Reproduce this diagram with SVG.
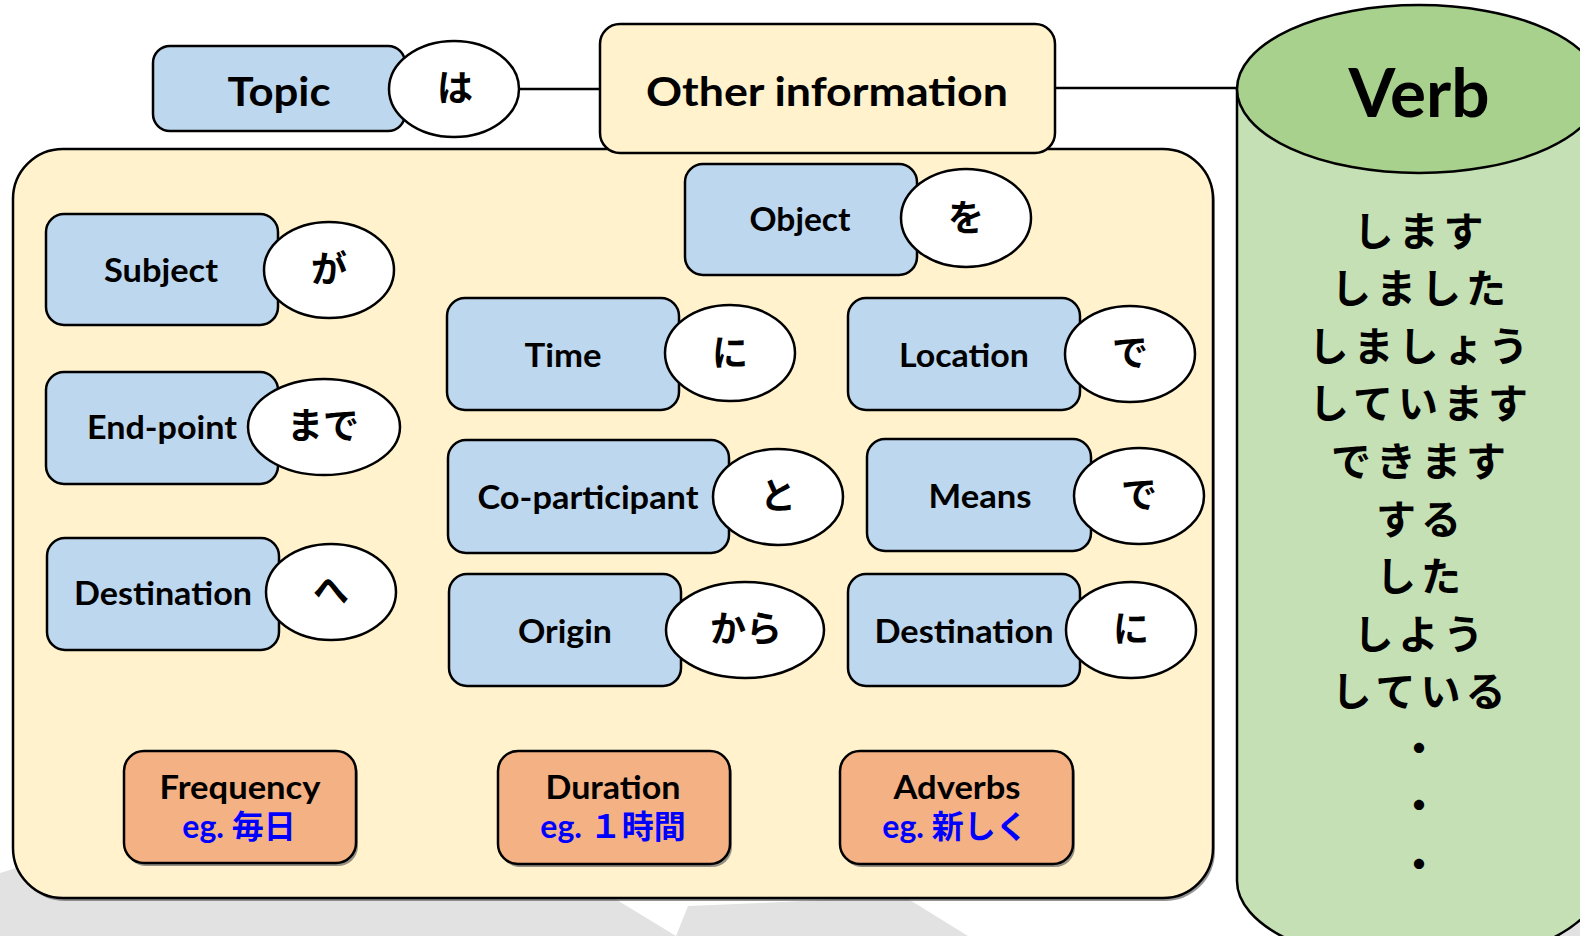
<svg xmlns="http://www.w3.org/2000/svg" width="1580" height="936" viewBox="0 0 1580 936">
<style>
.box{fill:#bdd7ee;stroke:#000;stroke-width:2.5}
.pt{fill:#fff;stroke:#000;stroke-width:2.5}
.org{fill:#f4b183;stroke:#000;stroke-width:2.5}
.cream{fill:#fff2cc;stroke:#000;stroke-width:2.5}
.shadow{fill:#666;opacity:0.7}
.lbl{font-family:Lato,"Liberation Sans","Noto Sans CJK JP",sans-serif;font-weight:700;font-size:33px;fill:#000;text-anchor:middle}
.big{font-size:41px}
.jp{font-family:"Noto Sans CJK JP",sans-serif;font-weight:700;font-size:36px;fill:#000;text-anchor:middle}
.vf{font-family:"Noto Sans CJK JP",sans-serif;font-weight:700;font-size:40px;letter-spacing:5px;fill:#000;text-anchor:middle}
.eg{font-family:Lato,"Noto Sans CJK JP",sans-serif;font-weight:700;font-size:32px;fill:#0000ff;text-anchor:middle}
.conn{stroke:#000;stroke-width:2.5;fill:none}
</style>
<g id="watermark" fill="#e2e2e2">
<polygon points="0,873 560,700 612,897 676,936 0,936"/>
<polygon points="676,936 688,906 760,903 880,897 905,897 968,936"/>
<polygon points="1500,880 1580,850 1580,936 1500,936"/>
</g>
<g id="container">
<rect class="shadow" x="15" y="152" width="1200" height="749" rx="50"/>
<rect class="cream" x="13" y="149" width="1200" height="749" rx="50"/>
</g>
<g id="verb">
<path d="M1237,89 L1237,881 A182,84 0 0 0 1601,881 L1601,89 Z" fill="#c5e0b4" stroke="#000" stroke-width="2.5"/>
<ellipse cx="1419" cy="89" rx="182" ry="84" fill="#a9d18e" stroke="#000" stroke-width="2.5"/>
<text class="lbl" x="1419" y="117" style="font-size:66px" textLength="141" lengthAdjust="spacingAndGlyphs">Verb</text>
<text class="vf" x="1421" y="246">します</text>
<text class="vf" x="1421" y="303">しました</text>
<text class="vf" x="1421" y="361">しましょう</text>
<text class="vf" x="1421" y="418">しています</text>
<text class="vf" x="1421" y="476">できます</text>
<text class="vf" x="1421" y="534">する</text>
<text class="vf" x="1421" y="591">した</text>
<text class="vf" x="1421" y="649">しよう</text>
<text class="vf" x="1421" y="706">している</text>
<text class="vf" x="1419" y="763" style="letter-spacing:0">・</text>
<text class="vf" x="1419" y="820" style="letter-spacing:0">・</text>
<text class="vf" x="1419" y="879" style="letter-spacing:0">・</text>
</g>
<g id="connectors">
<line class="conn" x1="519" y1="89" x2="600" y2="89"/>
<line class="conn" x1="1055" y1="88" x2="1237" y2="88"/>
</g>
<g id="topic">
<rect class="box" x="153" y="46" width="252" height="85" rx="17"/>
<text class="lbl big" x="279" y="106" textLength="103" lengthAdjust="spacingAndGlyphs">Topic</text>
<ellipse class="pt" cx="454" cy="89" rx="65" ry="48"/>
<text class="jp" x="455" y="101">は</text>
</g>
<g id="other-information">
<rect class="cream" x="600" y="24" width="455" height="129" rx="20"/>
<text class="lbl big" x="827" y="106" textLength="362" lengthAdjust="spacingAndGlyphs">Other information</text>
</g>
<g id="object">
<rect class="box" x="685" y="164" width="232" height="111" rx="18"/>
<text class="lbl" x="800" y="231" textLength="101" lengthAdjust="spacingAndGlyphs">Object</text>
<ellipse class="pt" cx="966" cy="218" rx="65" ry="49"/>
<text class="jp" x="966" y="231">を</text>
</g>
<g id="subject">
<rect class="box" x="46" y="214" width="232" height="111" rx="18"/>
<text class="lbl" x="161" y="282" textLength="114" lengthAdjust="spacingAndGlyphs">Subject</text>
<ellipse class="pt" cx="329" cy="270" rx="65" ry="48"/>
<text class="jp" x="329" y="282">が</text>
</g>
<g id="end-point">
<rect class="box" x="46" y="372" width="232" height="112" rx="18"/>
<text class="lbl" x="162" y="439" textLength="150" lengthAdjust="spacingAndGlyphs">End-point</text>
<ellipse class="pt" cx="324" cy="427" rx="76" ry="48"/>
<text class="jp" x="323" y="439">まで</text>
</g>
<g id="destination-he">
<rect class="box" x="47" y="538" width="232" height="112" rx="18"/>
<text class="lbl" x="163" y="605" textLength="178" lengthAdjust="spacingAndGlyphs">Destination</text>
<ellipse class="pt" cx="331" cy="592" rx="65" ry="48"/>
<text class="jp" x="331" y="604">へ</text>
</g>
<g id="time">
<rect class="box" x="447" y="298" width="232" height="112" rx="18"/>
<text class="lbl" x="563" y="367" textLength="77" lengthAdjust="spacingAndGlyphs">Time</text>
<ellipse class="pt" cx="730" cy="353" rx="65" ry="48"/>
<text class="jp" x="730" y="366">に</text>
</g>
<g id="location">
<rect class="box" x="848" y="298" width="232" height="112" rx="18"/>
<text class="lbl" x="964" y="367" textLength="130" lengthAdjust="spacingAndGlyphs">Location</text>
<ellipse class="pt" cx="1130" cy="354" rx="65" ry="48"/>
<text class="jp" x="1130" y="366">で</text>
</g>
<g id="co-participant">
<rect class="box" x="448" y="440" width="281" height="113" rx="18"/>
<text class="lbl" x="588" y="509" textLength="221" lengthAdjust="spacingAndGlyphs">Co-participant</text>
<ellipse class="pt" cx="778" cy="497" rx="65" ry="48"/>
<text class="jp" x="778" y="509">と</text>
</g>
<g id="means">
<rect class="box" x="867" y="439" width="224" height="112" rx="18"/>
<text class="lbl" x="980" y="508" textLength="103" lengthAdjust="spacingAndGlyphs">Means</text>
<ellipse class="pt" cx="1139" cy="496" rx="65" ry="48"/>
<text class="jp" x="1139" y="508">で</text>
</g>
<g id="origin">
<rect class="box" x="449" y="574" width="232" height="112" rx="18"/>
<text class="lbl" x="565" y="643" textLength="94" lengthAdjust="spacingAndGlyphs">Origin</text>
<ellipse class="pt" cx="745" cy="630" rx="79" ry="48"/>
<text class="jp" x="746" y="642">から</text>
</g>
<g id="destination-ni">
<rect class="box" x="848" y="574" width="232" height="112" rx="18"/>
<text class="lbl" x="964" y="643" textLength="179" lengthAdjust="spacingAndGlyphs">Destination</text>
<ellipse class="pt" cx="1131" cy="630" rx="65" ry="48"/>
<text class="jp" x="1131" y="642">に</text>
</g>
<g id="frequency">
<rect class="shadow" x="126" y="754" width="232" height="112" rx="20"/>
<rect class="org" x="124" y="751" width="232" height="112" rx="20"/>
<text class="lbl" x="240" y="799" textLength="161" lengthAdjust="spacingAndGlyphs">Frequency</text>
<text class="eg" x="239" y="838">eg. 毎日</text>
</g>
<g id="duration">
<rect class="shadow" x="500" y="754" width="232" height="113" rx="20"/>
<rect class="org" x="498" y="751" width="232" height="113" rx="20"/>
<text class="lbl" x="613" y="799" textLength="135" lengthAdjust="spacingAndGlyphs">Duration</text>
<text class="eg" x="613" y="838">eg. １時間</text>
</g>
<g id="adverbs">
<rect class="shadow" x="842" y="754" width="233" height="113" rx="20"/>
<rect class="org" x="840" y="751" width="233" height="113" rx="20"/>
<text class="lbl" x="957" y="799" textLength="127" lengthAdjust="spacingAndGlyphs">Adverbs</text>
<text class="eg" x="955" y="838">eg. 新しく</text>
</g>
</svg>
